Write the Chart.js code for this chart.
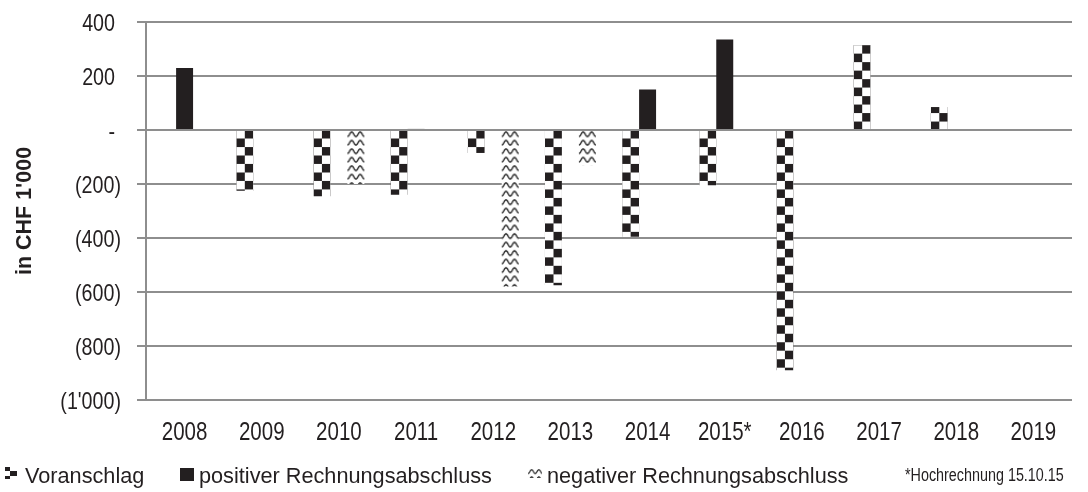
<!DOCTYPE html>
<html>
<head>
<meta charset="utf-8">
<script src="https://cdn.jsdelivr.net/npm/chart.js@4.4.1/dist/chart.umd.min.js"></script>
<style>
  body { margin: 0; background: #fff; }
  #wrap { width: 1088px; height: 492px; }
</style>
</head>
<body>
<div id="wrap"><canvas id="statChart" width="1088" height="492"></canvas></div>
<script>
// data, CHF 1'000
let years = ["2008", "2009", "2010", "2011", "2012", "2013", "2014", "2015*", "2016", "2017", "2018", "2019"];
let voranschlag = [null, -225, -245, -240, -85, -575, -395, -205, -890, 315, 85, null];
let positiv = [230, null, null, 4, null, null, 150, 335, null, null, null, null];
let negativ = [null, null, -200, null, -580, -130, null, null, null, null, null, null];
let yTicks = [400, 200, 0, -200, -400, -600, -800, -1000];

let SANS = "'Liberation Sans', Arial, sans-serif";
let NARROW_X = 0.82; // squeeze to look like Arial Narrow
let INK = "#231f20";
let GRID = "#8e8e8e";

// pattern tiles
function checkerTile() {
  let c = document.createElement('canvas');
  c.width = 16; c.height = 16;
  let g = c.getContext('2d');
  g.fillStyle = '#fff'; g.fillRect(0, 0, 16, 16);
  g.fillStyle = INK;
  g.fillRect(8, 0, 8, 8);
  g.fillRect(0, 8, 8, 8);
  return c;
}
function waveTile() {
  let c = document.createElement('canvas');
  c.width = 16; c.height = 8;
  let g = c.getContext('2d');
  g.fillStyle = '#fff'; g.fillRect(0, 0, 16, 8);
  g.strokeStyle = '#222';
  g.lineWidth = 1.3;
  g.beginPath();
  for (let x = 0; x <= 16; x += 0.5) {
    let y = 4 + 2.2 * Math.cos(x / 8 * 2 * Math.PI);
    if (x === 0) g.moveTo(x, y); else g.lineTo(x, y);
  }
  g.stroke();
  return c;
}
let tiles = { checker: checkerTile(), wave: waveTile() };

function patFill(tile, slot) {
  return function (c) {
    let chart = c.chart;
    let xs = chart.scales.x, ys = chart.scales.y;
    if (!xs || !ys || c.dataIndex === undefined) return INK;
    let catW = xs.width / years.length;
    let barW = catW * 0.66 / 3;
    let left = xs.getPixelForValue(c.dataIndex) - 1.5 * barW + slot * barW;
    let p = chart.ctx.createPattern(tile, 'repeat');
    let s = barW / 16;
    p.setTransform(new DOMMatrix([s, 0, 0, s, left, ys.getPixelForValue(0)]));
    return p;
  };
}

function fmt(v) {
  if (v === 0) return '-';
  let s = Math.abs(v).toString().replace(/\B(?=(\d{3})+(?!\d))/g, "'");
  return v < 0 ? '(' + s + ')' : s;
}

function narrowText(g, text, x, y, size, align) {
  g.save();
  g.font = size + "px " + SANS;
  g.textAlign = align;
  g.textBaseline = 'alphabetic';
  g.translate(x, y);
  g.scale(NARROW_X, 1);
  g.fillText(text, 0, 0);
  g.restore();
}

// axis labels in a narrow face, placed by the chart's scales
let axisLabels = {
  id: 'axisLabels',
  afterDraw(chart) {
    let g = chart.ctx;
    let xs = chart.scales.x, ys = chart.scales.y;
    g.save();
    g.fillStyle = INK;
    years.forEach((y, i) => {
      narrowText(g, y, xs.getPixelForValue(i), 440, 25, 'center');
    });
    yTicks.forEach(v => {
      let t = fmt(v);
      let right = t.endsWith(')') ? 121 : 115;
      narrowText(g, t, right, ys.getPixelForValue(v) + 8.5, 24, 'right');
    });
    g.restore();
  }
};

// legend + footnote drawn by hand
let legendPlugin = {
  id: 'bottomLegend',
  afterDraw(chart) {
    let g = chart.ctx;
    g.save();
    // Voranschlag icon: small checker
    g.fillStyle = INK;
    g.fillRect(5, 467, 5, 4);
    g.fillRect(10, 471, 7, 5);
    g.fillRect(5, 476, 5, 3);
    // positive icon
    g.fillRect(180, 468, 14, 13);
    // negative icon
    let wp = g.createPattern(tiles.wave, 'repeat');
    wp.setTransform(new DOMMatrix([0.9, 0, 0, 0.9, 528, 468]));
    g.fillStyle = wp;
    g.fillRect(528, 468, 14, 10);

    g.fillStyle = INK;
    g.textBaseline = 'alphabetic';
    g.font = "21.7px " + SANS;
    g.fillText('Voranschlag', 25, 483);
    g.fillText('positiver Rechnungsabschluss', 199, 483);
    g.fillText('negativer Rechnungsabschluss', 547, 483);
    narrowText(g, '*Hochrechnung 15.10.15', 905, 481, 17.5, 'left');
    g.restore();
  }
};

let radarChart = new Chart(document.getElementById('statChart'), {
  type: 'bar',
  data: {
    labels: years,
    datasets: [
      {
        label: "Voranschlag",
        data: voranschlag,
        backgroundColor: patFill(tiles.checker, 0)
      },
      {
        label: "positiver Rechnungsabschluss",
        data: positiv,
        backgroundColor: INK
      },
      {
        label: "negativer Rechnungsabschluss",
        data: negativ,
        backgroundColor: patFill(tiles.wave, 2)
      }
    ]
  },
  options: {
    responsive: false,
    animation: false,
    layout: { padding: { left: 0, right: 16, top: 22, bottom: 37 } },
    datasets: { bar: { categoryPercentage: 0.66, barPercentage: 1 } },
    plugins: {
      legend: { display: false },
      tooltip: { enabled: false }
    },
    scales: {
      x: {
        grid: { display: false, drawTicks: false },
        border: { display: false },
        ticks: { display: false },
        afterFit(scale) { scale.height = 55; }
      },
      y: {
        min: -1000,
        max: 400,
        afterBuildTicks(scale) { scale.ticks = yTicks.map(v => ({ value: v })); },
        grid: { color: GRID, lineWidth: 2, tickLength: 9, drawTicks: true },
        border: { display: true, color: GRID, width: 2 },
        ticks: { display: false },
        title: {
          display: true,
          text: "in CHF 1'000",
          color: INK,
          font: { family: SANS, size: 21.5, weight: 'bold' },
          padding: { top: 12, bottom: 0 }
        },
        afterFit(scale) { scale.width = 146; }
      }
    }
  },
  plugins: [axisLabels, legendPlugin]
});
</script>
</body>
</html>
